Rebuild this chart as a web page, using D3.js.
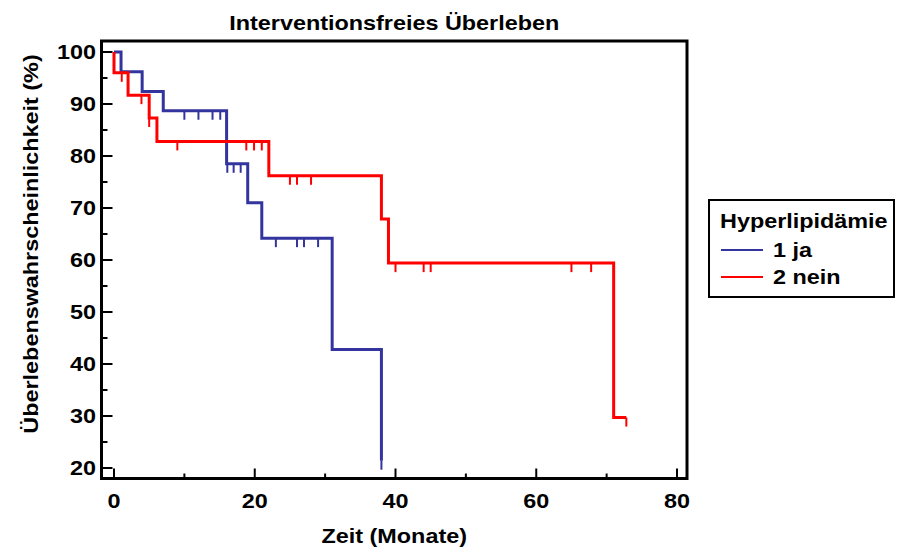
<!DOCTYPE html>
<html>
<head>
<meta charset="utf-8">
<script src="https://cdn.jsdelivr.net/npm/d3@7"></script>
<style>
  html, body { margin: 0; padding: 0; background: #fff; }
  svg { display: block; }
  text { font-family: "Liberation Sans", Arial, Helvetica, sans-serif; font-weight: bold; fill: #000; }
</style>
</head>
<body>
<svg id="chart" width="897" height="552"></svg>
<script>
// Kaplan-Meier estimates, survival in percent
const groupNames = ["1 ja", "2 nein"];
const groupColors = ["#34349e", "#ff0000"];

// group 1 (ja): event times and survival after each step
const jaTimes = [0, 1, 4, 7, 16, 19, 21, 31, 38];
const jaSurvival = [100, 96.2, 92.4, 88.7, 78.5, 71.0, 64.2, 42.8, 21.4];
const jaEnd = 38;
const jaCensored = [10, 12, 14, 15.1, 16.1, 17, 18, 23, 26, 27, 29, 38];

// group 2 (nein)
const neinTimes = [0, 0, 2, 5, 6.1, 22, 38, 39, 71];
const neinSurvival = [100, 96.0, 91.7, 87.3, 82.8, 76.2, 67.9, 59.4, 29.7];
const neinEnd = 72.8;
const neinCensored = [1.1, 3.9, 5.0, 9, 18.8, 19.9, 21, 25, 26, 28, 40, 44, 45, 65, 67.8, 72.8];

const xTicks = [0, 20, 40, 60, 80];
const xMinorTicks = [10, 30, 50, 70];
const yTicks = [20, 30, 40, 50, 60, 70, 80, 90, 100];
const yMinorTicks = [25, 35, 45, 55, 65, 75, 85, 95];

const svg = d3.select("#chart");

const frame = { left: 101.5, top: 41, right: 687, bottom: 478.5 };
const x = d3.scaleLinear().domain([0, 80]).range([114, 677]);
const y = d3.scaleLinear().domain([20, 100]).range([468, 52]);

const FONT = "19.5px";
const WIDEN = 1.2;   // glyphs are drawn widened along the text direction

// places a widened text label at (px, py), optionally rotated
function label(parent, px, py, str, anchor, dy, rotate) {
  const g = parent.append("g")
    .attr("transform", `translate(${px},${py})${rotate ? ` rotate(${rotate})` : ""} scale(${WIDEN},1)`);
  const t = g.append("text").attr("text-anchor", anchor || "start")
    .style("font-size", FONT).text(str);
  if (dy) t.attr("dy", dy);
  return t;
}

// survival at time t (right-continuous step function)
function survivalAt(times, surv, t) {
  let s = surv[0];
  for (let i = 0; i < times.length; i++) if (times[i] <= t) s = surv[i];
  return s;
}

function stepPath(times, surv, end) {
  const pts = [[times[0], surv[0]]];
  for (let i = 1; i < times.length; i++) {
    pts.push([times[i], surv[i - 1]]);
    pts.push([times[i], surv[i]]);
  }
  pts.push([end, surv[surv.length - 1]]);
  return d3.line().x(d => x(d[0])).y(d => y(d[1]))(pts);
}

const groups = [
  { times: jaTimes, surv: jaSurvival, end: jaEnd, cens: jaCensored, color: groupColors[0] },
  { times: neinTimes, surv: neinSurvival, end: neinEnd, cens: neinCensored, color: groupColors[1] }
];

// title
label(svg, (frame.left + frame.right) / 2, 30, "Interventionsfreies Überleben", "middle");

// ticks (drawn inward)
const axes = svg.append("g");
axes.selectAll(".xt").data(xTicks).join("line")
  .attr("x1", d => x(d)).attr("x2", d => x(d))
  .attr("y1", frame.bottom).attr("y2", frame.bottom - 10)
  .attr("stroke", "#000").attr("stroke-width", 2);
axes.selectAll(".xm").data(xMinorTicks).join("line")
  .attr("x1", d => x(d)).attr("x2", d => x(d))
  .attr("y1", frame.bottom).attr("y2", frame.bottom - 5)
  .attr("stroke", "#000").attr("stroke-width", 2);
axes.selectAll(".yt").data(yTicks).join("line")
  .attr("x1", frame.left).attr("x2", frame.left + 11)
  .attr("y1", d => y(d)).attr("y2", d => y(d))
  .attr("stroke", "#000").attr("stroke-width", 2);
axes.selectAll(".ym").data(yMinorTicks).join("line")
  .attr("x1", frame.left).attr("x2", frame.left + 6)
  .attr("y1", d => y(d)).attr("y2", d => y(d))
  .attr("stroke", "#000").attr("stroke-width", 2);

xTicks.forEach(d => label(axes, x(d), 508, d, "middle"));
yTicks.forEach(d => label(axes, 96, y(d), d, "end", "0.36em"));

// axis titles
label(svg, (frame.left + frame.right) / 2, 543, "Zeit (Monate)", "middle");
label(svg, 38, 244, "Überlebenswahrscheinlichkeit (%)", "middle", null, -90);

// curves
const plot = svg.append("g");
groups.forEach(g => {
  plot.append("path")
    .attr("d", stepPath(g.times, g.surv, g.end))
    .attr("fill", "none").attr("stroke", g.color)
    .attr("stroke-width", 3).attr("stroke-linejoin", "miter");
  plot.selectAll(null).data(g.cens).join("line")
    .attr("x1", d => x(d)).attr("x2", d => x(d))
    .attr("y1", d => y(survivalAt(g.times, g.surv, d)))
    .attr("y2", d => y(survivalAt(g.times, g.surv, d)) + 9)
    .attr("stroke", g.color).attr("stroke-width", 2);
});

// frame
svg.append("rect")
  .attr("x", frame.left).attr("y", frame.top)
  .attr("width", frame.right - frame.left).attr("height", frame.bottom - frame.top)
  .attr("fill", "none").attr("stroke", "#000").attr("stroke-width", 3);

// legend
const lg = svg.append("g");
lg.append("rect")
  .attr("x", 709).attr("y", 200).attr("width", 185).attr("height", 97)
  .attr("fill", "#fff").attr("stroke", "#000").attr("stroke-width", 2);
label(lg, 720, 228, "Hyperlipidämie", "start");
groupNames.forEach((name, i) => {
  const yy = 250 + i * 27;
  lg.append("line").attr("x1", 721).attr("x2", 763).attr("y1", yy).attr("y2", yy)
    .attr("stroke", groupColors[i]).attr("stroke-width", 2);
  label(lg, 773, yy + 7, name, "start");
});
</script>
</body>
</html>
